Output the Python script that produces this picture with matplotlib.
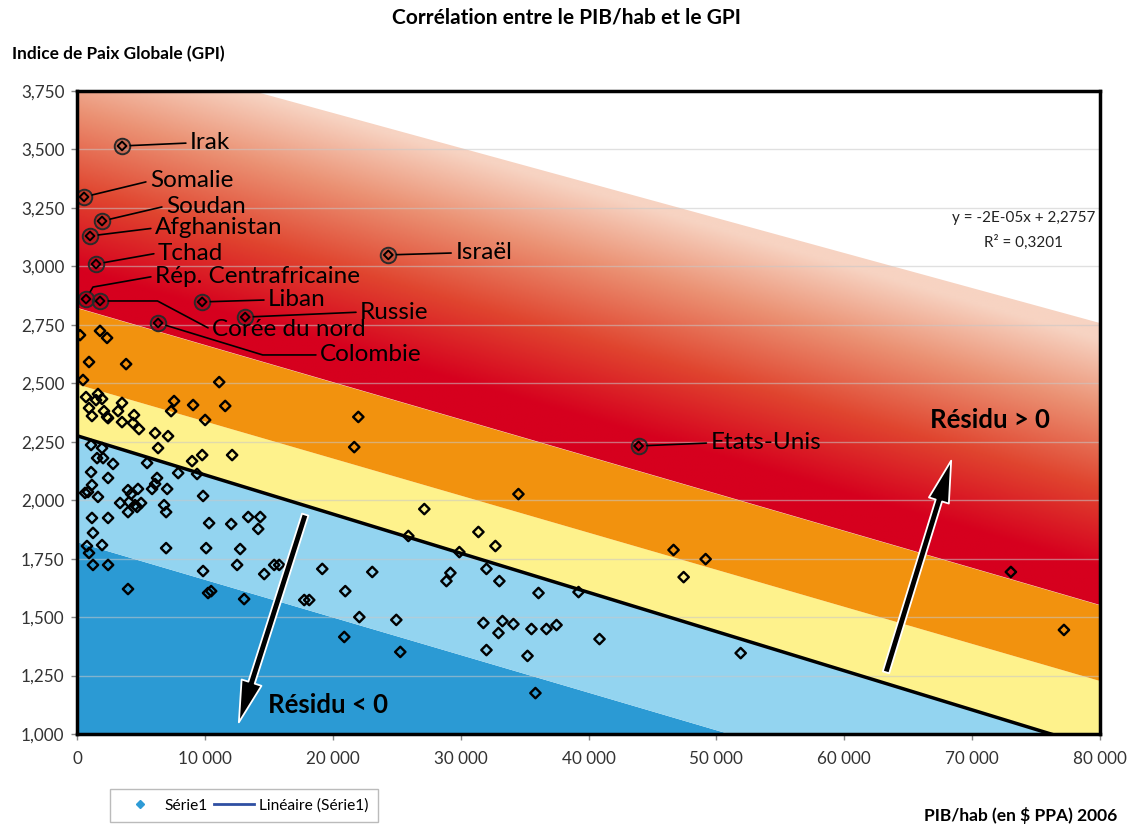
import numpy as np
import matplotlib
matplotlib.use("Agg")
import matplotlib.pyplot as plt
from matplotlib.colors import LinearSegmentedColormap
from matplotlib.patches import Polygon, FancyArrowPatch
from matplotlib.lines import Line2D
from matplotlib.ticker import FuncFormatter, MultipleLocator

plt.rcParams['font.family'] = ['Lato', 'DejaVu Sans']

# ---------------- data ----------------
pib = [235, 1800, 2350, 940, 3840, 470, 11120, 705, 1640, 1490, 1960, 940, 1170, 2110, 2350,
       2430, 3520, 3210, 4460, 3520, 4380, 4850, 7590, 7360, 9080, 11590, 10020, 6110, 7120,
       6340, 1100, 1960, 1570, 2040, 2820, 5480, 9790, 12130, 9000, 7910, 9390, 1100, 2430,
       1170, 630, 860, 1640, 3990, 4230, 4770, 3370, 4070, 4700, 5010, 4540, 3990, 5870, 6110,
       6260, 7050, 6810, 6970, 9860, 1170, 2430, 1250, 10330, 12060, 13390, 14330, 14170, 780,
       940, 1960, 6970, 10100, 12760, 1250, 2430, 9860, 12520, 14640, 15420, 15810, 19180,
       23090, 3990, 10250, 10490, 13070, 17770, 18160, 20980, 22080, 24970, 20900, 25280,
       22000, 21680, 27160, 25910, 34520, 31390, 32720, 29900, 29200, 28890, 32020, 33030,
       36090, 39220, 31780, 33270, 34130, 32960, 35540, 36710, 37500, 40860, 32020, 35230,
       35850, 46650, 49160, 47440, 51900, 73030, 77180]
gpi = [2.706, 2.724, 2.694, 2.591, 2.582, 2.514, 2.505, 2.441, 2.454, 2.428, 2.433, 2.394,
       2.360, 2.381, 2.356, 2.351, 2.416, 2.381, 2.364, 2.334, 2.330, 2.304, 2.424, 2.381,
       2.407, 2.403, 2.343, 2.287, 2.274, 2.223, 2.236, 2.223, 2.180, 2.180, 2.155, 2.159,
       2.193, 2.193, 2.167, 2.116, 2.112, 2.120, 2.095, 2.065, 2.031, 2.035, 2.014, 2.043,
       2.026, 2.048, 1.988, 1.992, 1.971, 1.988, 1.979, 1.949, 2.048, 2.069, 2.095, 2.048,
       1.979, 1.949, 2.018, 1.924, 1.924, 1.860, 1.902, 1.898, 1.928, 1.928, 1.877, 1.804,
       1.774, 1.808, 1.795, 1.795, 1.791, 1.723, 1.723, 1.697, 1.723, 1.684, 1.723, 1.723,
       1.706, 1.693, 1.620, 1.603, 1.611, 1.577, 1.573, 1.573, 1.611, 1.500, 1.488, 1.415,
       1.351, 2.356, 2.227, 1.962, 1.847, 2.026, 1.864, 1.804, 1.778, 1.689, 1.654, 1.706,
       1.654, 1.603, 1.607, 1.475, 1.483, 1.470, 1.432, 1.449, 1.449, 1.466, 1.406, 1.359,
       1.334, 1.175, 1.787, 1.748, 1.671, 1.346, 1.693, 1.445]

pays = ['Irak', 'Somalie', 'Soudan', 'Afghanistan', 'Tchad', 'Rép. Centrafricaine',
        'Corée du nord', 'Liban', 'Russie', 'Colombie', 'Israël', 'Etats-Unis']
pays_pib = [3523, 548, 1957, 1018, 1487, 705, 1800, 9785, 13150, 6340, 24345, 43915]
pays_gpi = [3.515, 3.297, 3.194, 3.130, 3.010, 2.860, 2.852, 2.848, 2.783, 2.758, 3.049, 2.232]

# trend line (Excel: y = -2E-05x + 2,2757)
trend_intercept = 2.2757
trend_slope = -1.675e-5
equation_text = 'y = -2E-05x + 2,2757'
r2_text = 'R² = 0,3201'

# band boundaries (intercept, slope)
blue_dark_top = (1.822, -1.609e-5)
yellow_top = (2.497, -1.586e-5)
orange_top = (2.823, -1.589e-5)
red_top = (3.956, -1.498e-5)

x_ticks = [0, 10000, 20000, 30000, 40000, 50000, 60000, 70000, 80000]

title = 'Corrélation entre le PIB/hab et le GPI'
ylabel = 'Indice de Paix Globale (GPI)'
xlabel = 'PIB/hab (en $ PPA) 2006'

# ---------------- figure ----------------
W, H = 1132, 827
fig = plt.figure(figsize=(W / 100, H / 100), dpi=100)
ax = fig.add_axes([77 / W, 1 - 734 / H, 1023 / W, 643 / H])
ax.set_xlim(0, 80000)
ax.set_ylim(1.0, 3.75)

xs = np.linspace(0, 80000, 400)
line = lambda p: p[0] + p[1] * xs
trend = trend_intercept + trend_slope * xs

c_dark = '#2B9AD4'
c_light = '#93D4F0'
c_yellow = '#FEF28C'
c_orange = '#F2920E'

ax.fill_between(xs, 0.5, line(blue_dark_top), color=c_dark, lw=0, zorder=1)
ax.fill_between(xs, line(blue_dark_top), trend, color=c_light, lw=0, zorder=1)
ax.fill_between(xs, trend, line(yellow_top), color=c_yellow, lw=0, zorder=1)
ax.fill_between(xs, line(yellow_top), line(orange_top), color=c_orange, lw=0, zorder=1)

# red gradient region
gx = np.linspace(0, 80000, 500)
gy = np.linspace(1.0, 3.75, 400)
GX, GY = np.meshgrid(gx, gy)
d = GY - (orange_top[0] + orange_top[1] * GX)
t = np.clip((d - 0.16) / 0.98, 0, 1)
cmap = LinearSegmentedColormap.from_list(
    'red', [(0, '#D6001E'), (0.35, '#E0452F'), (0.7, '#EB9274'), (1.0, '#F7D3C2')])
im = ax.imshow(cmap(t), extent=[0, 80000, 1.0, 3.75], origin='lower', aspect='auto',
               zorder=1, interpolation='bilinear')
poly_xy = np.vstack([np.column_stack([xs, line(orange_top)]),
                     np.column_stack([xs[::-1], line(red_top)[::-1]])])
clip_poly = Polygon(poly_xy, closed=True, transform=ax.transData, facecolor='none', edgecolor='none')
ax.add_patch(clip_poly)
im.set_clip_path(clip_poly)

# grid
for yv in np.arange(1.25, 3.75, 0.25):
    ax.axhline(yv, color='#C8C8C8', lw=1, alpha=0.55, zorder=2)

# trend line
ax.plot(xs, trend, color='black', lw=2.5, zorder=3)

# scatter
ax.scatter(pib, gpi, marker='D', s=28, facecolors='none', edgecolors='black', linewidths=1.7, zorder=4)
ax.scatter(pays_pib, pays_gpi, marker='D', s=20, facecolors='none', edgecolors='black', linewidths=1.4, zorder=4)
ax.scatter(pays_pib, pays_gpi, marker='o', s=125, facecolors=(0, 0, 0, 0.12), edgecolors='#2a2a2a',
           linewidths=1.4, zorder=5)

# labels (offset in pixels, connection style)
label_offsets = [(68, 3), (66, 16), (64, 15), (65, 8), (62, 11), (69, 23), (112, -29),
                 (66, 2), (115, 5), (162, -32), (67, 2), (72, 3)]
label_conn = ['arc3', 'arc3', 'arc3', 'arc3', 'arc3', 'angle,angleA=10,angleB=60,rad=0',
              'angle,angleA=-28,angleB=0,rad=0', 'arc3', 'arc3',
              'angle,angleA=0,angleB=-17,rad=0', 'arc3', 'arc3']
for name, xv, yv, off, cs in zip(pays, pays_pib, pays_gpi, label_offsets, label_conn):
    ax.annotate(name, xy=(xv, yv), xytext=off, textcoords='offset pixels', ha='left', va='center',
                fontsize=17.5, color='black', zorder=6,
                arrowprops=dict(arrowstyle='-', color='black', lw=1.2, shrinkA=1, shrinkB=6,
                                relpos=(0, 0.5), connectionstyle=cs))

# residual arrows
for tail, head in [((0.2239, 0.3453), (0.1574, 0.014)), ((0.790, 0.0918), (0.8553, 0.4292))]:
    arr = FancyArrowPatch(tail, head, transform=ax.transAxes,
                          arrowstyle='simple,head_length=3.0,head_width=1.5,tail_width=0.48',
                          mutation_scale=10, facecolor='black', edgecolor='white', lw=1.3, zorder=7)
    ax.add_patch(arr)
ax.text((328 - 77) / 1023, (734 - 705) / 643, 'Résidu < 0', transform=ax.transAxes, ha='center',
        va='center', fontsize=18.5, fontweight='bold', zorder=8)
ax.text((990 - 77) / 1023, (734 - 420) / 643, 'Résidu > 0', transform=ax.transAxes, ha='center',
        va='center', fontsize=18.5, fontweight='bold', zorder=8)

# equation
ax.text(0.925, 0.8025, equation_text, transform=ax.transAxes, ha='center', va='center', fontsize=11,
        color='#222222', zorder=8)
ax.text(0.925, 0.764, r2_text, transform=ax.transAxes, ha='center', va='center', fontsize=11,
        color='#222222', zorder=8)

# axes styling
ax.set_xticks(x_ticks)
ax.yaxis.set_major_locator(MultipleLocator(0.25))
ax.xaxis.set_major_formatter(FuncFormatter(lambda v, p: f"{int(round(v)):,}".replace(',', ' ')))
ax.yaxis.set_major_formatter(FuncFormatter(lambda v, p: f"{v:.3f}".replace('.', ',')))
ax.tick_params(axis='both', labelsize=12.3, labelcolor='#333333', color='#888888', length=4, width=1)
ax.tick_params(axis='x', pad=8)
ax.tick_params(axis='y', pad=5)
for s in ax.spines.values():
    s.set_linewidth(2.5)
    s.set_color('black')
    s.set_zorder(10)

fig.text(0.5, 1 - 18 / H, title, ha='center', va='center', fontsize=15, fontweight='bold')
fig.text(12 / W, 1 - 54 / H, ylabel, ha='left', va='center', fontsize=12.4, fontweight='bold')
fig.text(1117 / W, 1 - 815 / H, xlabel, ha='right', va='center', fontsize=12.5, fontweight='bold')

handles = [Line2D([], [], marker='D', markersize=4, color='#2E9BD6', linestyle='none'),
           Line2D([], [], color='#2F4FA2', lw=2)]
fig.legend(handles, ['Série1', 'Linéaire (Série1)'], loc='lower left',
           bbox_to_anchor=(110 / W, 1 - 822 / H), borderaxespad=0, ncol=2, fontsize=11.2,
           frameon=True, fancybox=False, edgecolor='#AAAAAA', handlelength=2.6, columnspacing=0.4,
           handletextpad=0.3, borderpad=0.6)

fig.savefig('out.png', dpi=100)
